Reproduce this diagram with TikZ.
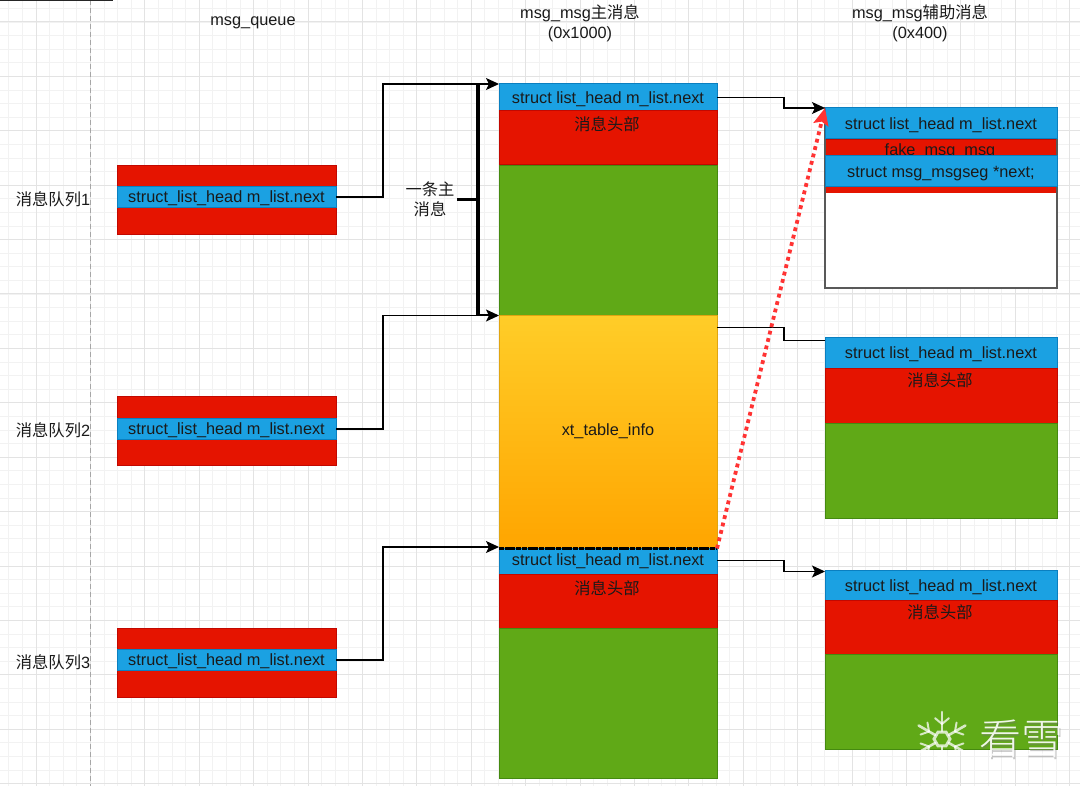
\documentclass[tikz,border=0pt]{standalone}
\usepackage{fontspec}
\setmainfont{Liberation Sans}
\newfontfamily\cjk{Noto Sans CJK SC}
\newfontfamily\cjklight{Noto Sans CJK SC Light}
\usetikzlibrary{arrows.meta,calc}
\definecolor{bluef}{HTML}{1BA1E2}\definecolor{blues}{HTML}{0A7FC0}
\definecolor{redf}{HTML}{E51400}\definecolor{reds}{HTML}{C20800}
\definecolor{greenf}{HTML}{60A917}\definecolor{greens}{HTML}{458A10}
\definecolor{goldt}{HTML}{FFCD28}\definecolor{goldb}{HTML}{FFA500}\definecolor{golds}{HTML}{E0A510}
\definecolor{txt}{HTML}{1A1A1A}
\definecolor{dotred}{HTML}{FF3333}
\newcommand{\lowtext}[2]{\raisebox{-#1pt}[\height][\depth]{#2}}
\tikzset{
  x=1pt,y=-1pt,
  base/.style={anchor=north west,inner sep=0pt,outer sep=0pt,line width=1pt,text=txt,font=\fontsize{16.3}{19}\selectfont},
  qwidth/.style={minimum width=219pt},
  mwidth/.style={minimum width=218pt},
  rwidth/.style={minimum width=232pt},
  bluebox/.style={base,draw=blues,fill=bluef},
  redbox/.style={base,draw=reds,fill=redf},
  greenbox/.style={base,draw=greens,fill=greenf},
  lab/.style={inner sep=0pt,text=txt,font=\fontsize{16.3}{20}\selectfont,align=center},
  conn/.style={draw=black,line width=1.1pt,-{Stealth[length=13pt,width=12pt,inset=3pt]}},
  plain/.style={draw=black,line width=1.1pt},
  heavy/.style={draw=black,line width=3.2pt},
  flake/.style={draw=white,line width=2.6pt,opacity=.75,line cap=round},
}
\begin{document}
\begin{tikzpicture}
\useasboundingbox (0,0) rectangle (1080,786);
\fill[white] (0,0) rectangle (1080,786);
% grid
\foreach \k in {-2,...,77}{\draw[black!5,line width=.8pt] ({8.8+13.6*\k},0) -- ({8.8+13.6*\k},786);}
\foreach \k in {-1,...,58}{\draw[black!5,line width=.8pt] (0,{8.4+13.6*\k}) -- (1080,{8.4+13.6*\k});}
\foreach \k in {0,...,19}{\draw[black!11,line width=1pt] ({36+54.4*\k},0) -- ({36+54.4*\k},786);}
\foreach \k in {0,...,14}{\draw[black!11,line width=1pt] (0,{22+54.4*\k}) -- (1080,{22+54.4*\k});}
\coordinate (ruleA) at (90.4,0); \coordinate (ruleB) at (90.4,786);
\draw[black!35,line width=1pt,dash pattern=on 5pt off 3pt] (ruleA) -- (ruleB);
\coordinate (topA) at (0,0); \coordinate (topB) at (113,0);
\draw[black!85,line width=2.4pt] (topA) -- (topB);
% titles
\node[lab] (t1) at (253,23) {msg\_queue};
\node[lab] (t2) at (580,23) {msg\_msg{\cjk 主消息}\\(0x1000)};
\node[lab] (t3) at (920,23) {msg\_msg{\cjk 辅助消息}\\(0x400)};
\node[lab] (l1) at (53,199.5) {{\cjk 消息队列}1};
\node[lab] (l2) at (53,430.5) {{\cjk 消息队列}2};
\node[lab] (l3) at (53,662.5) {{\cjk 消息队列}3};
% queue column
\node[redbox,qwidth,minimum height=69pt] (qr1) at (117,165.5) {};
\node[bluebox,qwidth,minimum height=21pt] (q1) at (117,186.5) {\lowtext{1}{struct\_list\_head m\_list.next}};
\node[redbox,qwidth,minimum height=69pt] (qr2) at (117,396.5) {};
\node[bluebox,qwidth,minimum height=21pt] (q2) at (117,418.5) {\lowtext{1}{struct\_list\_head m\_list.next}};
\node[redbox,qwidth,minimum height=69pt] (qr3) at (117,628.5) {};
\node[bluebox,qwidth,minimum height=21pt] (q3) at (117,649.5) {\lowtext{1}{struct\_list\_head m\_list.next}};
% main column
\node[bluebox,mwidth,minimum height=27pt] (m1) at (499,84) {\lowtext{2}{struct list\_head m\_list.next}};
\node[redbox,mwidth,minimum height=54pt] (m1r) at (499,111) {};
\node[lab] (m1t) at (607,124.5) {\cjk 消息头部};
\node[greenbox,mwidth,minimum height=150pt] (m1g) at (499,165.5) {};
\node[base,mwidth,minimum height=233pt,draw=golds,top color=goldt,bottom color=goldb] (xt) at (499,315.5) {\lowtext{-0.5}{xt\_table\_info}};
\node[bluebox,mwidth,minimum height=26pt] (m2) at (499,548.5) {\lowtext{0}{struct list\_head m\_list.next}};
\node[redbox,mwidth,minimum height=54pt] (m2r) at (499,574.5) {};
\node[lab] (m2t) at (607,588.5) {\cjk 消息头部};
\node[greenbox,mwidth,minimum height=150pt] (m2g) at (499,628.5) {};
% aux column 1
\node[base,rwidth,minimum height=180pt,draw=black!65,fill=white,line width=1.5pt] (a0) at (825,108) {};
\node[redbox,rwidth,minimum height=54pt] (a1r) at (825,139.5) {};
\node[lab] (a1t) at (940,151) {fake\_msg\_msg};
\fill[white] (825.5,193) rectangle (1056.5,288);
\draw[black!65,line width=1.5pt] (a0.north west) -- (a0.south west) -- (a0.south east) -- (a0.north east);
\node[bluebox,rwidth,minimum height=31pt] (a1) at (825,108) {\lowtext{2}{struct list\_head m\_list.next}};
\node[bluebox,rwidth,minimum height=31pt] (a1b) at (825,155.5) {\lowtext{3}{struct msg\_msgseg *next;}};
% aux column 2
\node[bluebox,rwidth,minimum height=31pt] (a2) at (825,337.5) {\lowtext{1.5}{struct list\_head m\_list.next}};
\node[redbox,rwidth,minimum height=55pt] (a2r) at (825,368.5) {};
\node[lab] (a2t) at (940,380.5) {\cjk 消息头部};
\node[greenbox,rwidth,minimum height=95pt] (a2g) at (825,423.5) {};
% aux column 3
\node[bluebox,rwidth,minimum height=30pt] (a3) at (825,570.5) {\lowtext{2}{struct list\_head m\_list.next}};
\node[redbox,rwidth,minimum height=54pt] (a3r) at (825,600.5) {};
\node[lab] (a3t) at (940,612.5) {\cjk 消息头部};
\node[greenbox,rwidth,minimum height=95pt] (a3g) at (825,654.5) {};
% connectors from queues
\coordinate (jq) at (383,0);
\coordinate (jm) at (784,0);
\draw[conn] (q1.east) -- (q1.east -| jq) |- (m1.north west);
\draw[conn] (q2.east) -- (q2.east -| jq) |- (xt.north west);
\draw[conn] (q3.east) -- (q3.east -| jq) |- ($(m2.north west)+(0,-1.5)$);
% bracket
\node[lab] (brk) at (430,199.5) {\cjk 一条主\\\cjk 消息};
\coordinate (bt) at (478,84); \coordinate (bb) at (478,315.5);
\draw[heavy] (bt) -- (bb);
\draw[heavy] (457,199.5) -- (478,199.5);
\draw[heavy,line width=2pt] (bt) -- (492,84);
\draw[heavy,line width=2pt] (bb) -- (492,315.5);
% connectors to aux
\coordinate (o1) at ($(m1.north east)+(0,13.5)$);
\coordinate (o2) at ($(xt.north east)+(0,12)$);
\coordinate (o3) at ($(m2.north east)+(0,12)$);
\coordinate (e2) at ($(a2.north west)+(0,3)$);
\coordinate (e3) at ($(a3.north west)+(0,1)$);
\draw[conn] (o1) -- (o1 -| jm) |- (a1.north west);
\draw[plain] (o2) -- (o2 -| jm) |- (e2);
\draw[conn] (o3) -- (o3 -| jm) |- (e3);
% dashed boundary
\draw[black,line width=3.8pt,dash pattern=on 5pt off .7pt] (xt.south west) -- (xt.south east);
% red dotted
\draw[draw=dotred,line width=3.8pt,dash pattern=on 3.8pt off 3.8pt,-{Stealth[length=17pt,width=15pt,inset=3pt,fill=dotred]}] (xt.south east) -- (a1.north west);
% watermark
\begin{scope}[shift={(942,739)}]
 \foreach \a in {30,90,...,330}{
  \draw[flake] (\a:8) -- (\a:27);
  \draw[flake,line width=2pt] (\a:15) -- ++(\a+50:9);
  \draw[flake,line width=2pt] (\a:15) -- ++(\a-50:9);
 }
 \draw[flake,line width=3pt] (0:8) -- (60:8) -- (120:8) -- (180:8) -- (240:8) -- (300:8) -- cycle;
\end{scope}
\node[text=black!55,opacity=.4,font=\cjklight\fontsize{42}{42}\selectfont,inner sep=0pt] (wms) at (1022.5,741) {看雪};
\node[text=white,opacity=.9,font=\cjklight\fontsize{42}{42}\selectfont,inner sep=0pt] (wm) at (1021,739) {看雪};
\end{tikzpicture}
\end{document}
